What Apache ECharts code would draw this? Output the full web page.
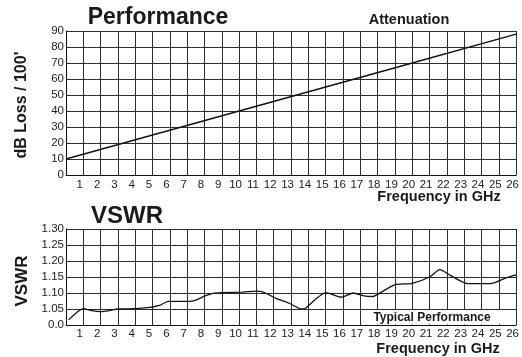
<!DOCTYPE html>
<html>
<head>
<meta charset="utf-8">
<script src="https://cdn.jsdelivr.net/npm/echarts@6/dist/echarts.min.js"></script>
<style>
html,body{margin:0;padding:0;background:#fff;}
#c{width:522px;height:357px;}
</style>
</head>
<body>
<div id="c"></div>
<script>
// ---- data ----
var freqTicks = [1,2,3,4,5,6,7,8,9,10,11,12,13,14,15,16,17,18,19,20,21,22,23,24,25,26];
var lossTicks = ['0','10','20','30','40','50','60','70','80','90'];
var vswrTicks = ['0.0','1.05','1.10','1.15','1.20','1.25','1.30'];

var attFreq = [0, 10, 20, 26];
var attLoss = [10, 40, 70, 88];

var vswrFreq  = [0.15, 1.0, 1.5, 2.0, 2.5, 3.0, 4.0, 4.7, 5.4, 5.9, 7.1, 7.5, 8.0, 8.5, 9.0, 10.2, 11.0, 11.4, 12.1, 12.9, 13.6, 13.85, 14.4, 15.0, 15.9, 16.6, 17.2, 17.7, 18.05, 19.0, 20.0, 21.0, 21.6, 22.2, 23.2, 24.2, 24.75, 25.4, 26.0];
var vswrValue = [1.016, 1.051, 1.045, 1.042, 1.045, 1.050, 1.051, 1.054, 1.061, 1.074, 1.074, 1.078, 1.090, 1.099, 1.101, 1.103, 1.106, 1.103, 1.084, 1.068, 1.050, 1.053, 1.080, 1.101, 1.087, 1.100, 1.091, 1.089, 1.097, 1.126, 1.130, 1.150, 1.173, 1.155, 1.129, 1.129, 1.132, 1.147, 1.157];

function pairs(xs, ys){ return xs.map(function(x,i){ return [x, ys[i]]; }); }

var FONT = '"Liberation Sans", Arial, Helvetica, sans-serif';
var gridColor = '#2e2e2e';
var labelStyle = {color:'#222', fontFamily:FONT, fontSize:11.5};

function xAxis(gi, margin){
  return {
    type:'value', gridIndex:gi, min:0, max:26, interval:1,
    axisLine:{show:true, lineStyle:{color:'#111', width:1}},
    axisTick:{show:false},
    splitLine:{show:true, lineStyle:{color:gridColor, width:1}},
    axisLabel:Object.assign({}, labelStyle, {
      margin:margin, padding:[0,7,0,0],
      formatter:function(v){ var i = freqTicks.indexOf(Math.round(v)); return i>=0 ? String(freqTicks[i]) : ''; }
    })
  };
}

var chart = echarts.init(document.getElementById('c'), null, {renderer:'canvas'});
chart.setOption({
  animation:false,
  backgroundColor:'#fff',
  grid:[
    {left:66, top:31, width:453, height:144, show:false},
    {left:66, top:229, width:453, height:96, show:false}
  ],
  xAxis:[ xAxis(0,4), xAxis(1,3) ],
  yAxis:[
    {type:'value', gridIndex:0, min:0, max:90, interval:10,
     axisLine:{show:true, lineStyle:{color:'#111'}}, axisTick:{show:false},
     splitLine:{show:true, lineStyle:{color:gridColor, width:1}},
     axisLabel:Object.assign({}, labelStyle, {margin:2,
       formatter:function(v){ return lossTicks[Math.round(v/10)]; }})},
    {type:'value', gridIndex:1, min:1.0, max:1.3, interval:0.05,
     axisLine:{show:true, lineStyle:{color:'#111'}}, axisTick:{show:false},
     splitLine:{show:true, lineStyle:{color:gridColor, width:1}},
     axisLabel:Object.assign({}, labelStyle, {margin:2,
       formatter:function(v){ return vswrTicks[Math.round((v-1)/0.05)]; }})}
  ],
  series:[
    {type:'line', xAxisIndex:0, yAxisIndex:0, data:pairs(attFreq, attLoss),
     symbol:'none', lineStyle:{color:'#111', width:1.3}, z:5},
    {type:'line', xAxisIndex:1, yAxisIndex:1, data:pairs(vswrFreq, vswrValue),
     symbol:'none', smooth:0.2, lineStyle:{color:'#111', width:1.3}, z:5}
  ],
  graphic:[
    {type:'text', x:158, y:18, z:100, style:{text:'Performance', font:'bold 23px '+FONT, fill:'#1a1a1a', align:'center', verticalAlign:'middle'}},
    {type:'text', x:409, y:20, z:100, style:{text:'Attenuation', font:'bold 14.5px '+FONT, fill:'#1a1a1a', align:'center', verticalAlign:'middle'}},
    {type:'text', x:127, y:216, z:100, style:{text:'VSWR', font:'bold 24px '+FONT, fill:'#1a1a1a', align:'center', verticalAlign:'middle'}},
    {type:'text', x:439, y:197, z:100, style:{text:'Frequency in GHz', font:'bold 14.5px '+FONT, fill:'#1a1a1a', align:'center', verticalAlign:'middle'}},
    {type:'text', x:438, y:349, z:100, style:{text:'Frequency in GHz', font:'bold 14.5px '+FONT, fill:'#1a1a1a', align:'center', verticalAlign:'middle'}},
    {type:'text', x:22, y:105, rotation:Math.PI/2, z:100, style:{text:"dB Loss / 100'", font:'bold 16px '+FONT, fill:'#1a1a1a', align:'center', verticalAlign:'middle'}},
    {type:'text', x:22, y:281, rotation:Math.PI/2, z:100, style:{text:'VSWR', font:'bold 17px '+FONT, fill:'#1a1a1a', align:'center', verticalAlign:'middle'}},
    {type:'rect', z:99, shape:{x:372, y:310, width:144, height:14.5}, style:{fill:'#fff'}},
    {type:'text', x:432, y:317.5, z:100, style:{text:'Typical Performance', font:'bold 12px '+FONT, fill:'#1a1a1a', align:'center', verticalAlign:'middle'}}
  ]
});
</script>
</body>
</html>
